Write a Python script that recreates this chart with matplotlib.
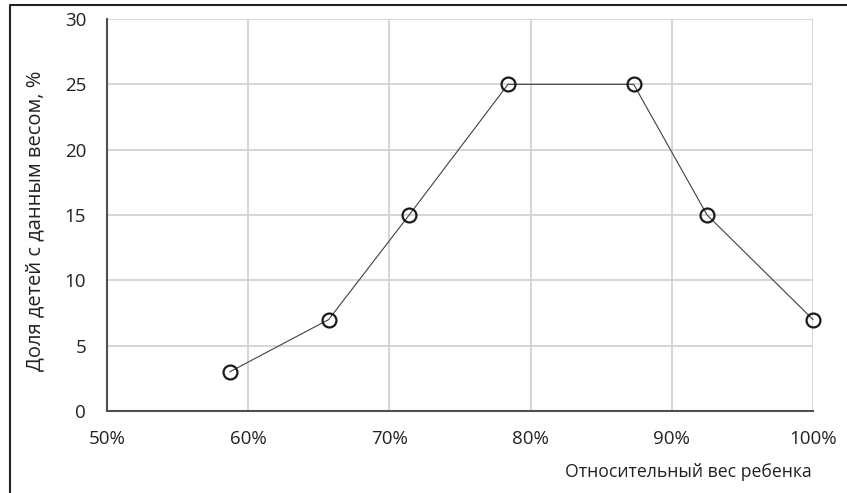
import numpy as np
import matplotlib.pyplot as plt
from matplotlib.lines import Line2D
from matplotlib.ticker import PercentFormatter

plt.rcParams['font.family'] = ['Open Sans', 'DejaVu Sans']

weight = [58.7, 65.7, 71.4, 78.4, 87.3, 92.5, 100.0]
share = [3, 7, 15, 25, 25, 15, 7]

fig = plt.figure(figsize=(8.47, 4.93), dpi=100)
ax = fig.add_axes([107/847, 1 - 411/493, 706/847, 392/493])

ax.plot(weight, share, color='#404040', lw=0.8, marker='o', ms=10,
        mfc='none', mec='#1a1a1a', mew=1.6, zorder=3, clip_on=False)

ax.set_xlim(50, 100)
ax.set_ylim(0, 30)
ax.set_xticks(np.arange(50, 101, 10))
ax.set_yticks(np.arange(0, 31, 5))
ax.xaxis.set_major_formatter(PercentFormatter(decimals=0))
ax.grid(True, color='#d0d0d0', lw=1.2)
ax.set_axisbelow(True)
for s in ['top', 'right']:
    ax.spines[s].set_visible(False)
for s in ['left', 'bottom']:
    ax.spines[s].set_color('#505050')
    ax.spines[s].set_linewidth(1.5)
ax.tick_params(length=0, labelsize=13.5, colors='#222222')
ax.tick_params(axis='x', pad=14)
ax.tick_params(axis='y', pad=15)

fig.text(35/847, 1 - 221/493, 'Доля детей с данным весом, %', rotation=90,
         ha='center', va='center', fontsize=14.5, color='#222222')
fig.text(812/847, 1 - 472/493, 'Относительный вес ребенка',
         ha='right', va='center', fontsize=12.7, color='#222222')

# outer frame (left and top)
fig.add_artist(Line2D([10/847, 10/847, 1.0], [0, 1 - 5/493, 1 - 5/493],
                      transform=fig.transFigure, color='#222222', lw=1.5))

fig.savefig('out.png', dpi=100)
